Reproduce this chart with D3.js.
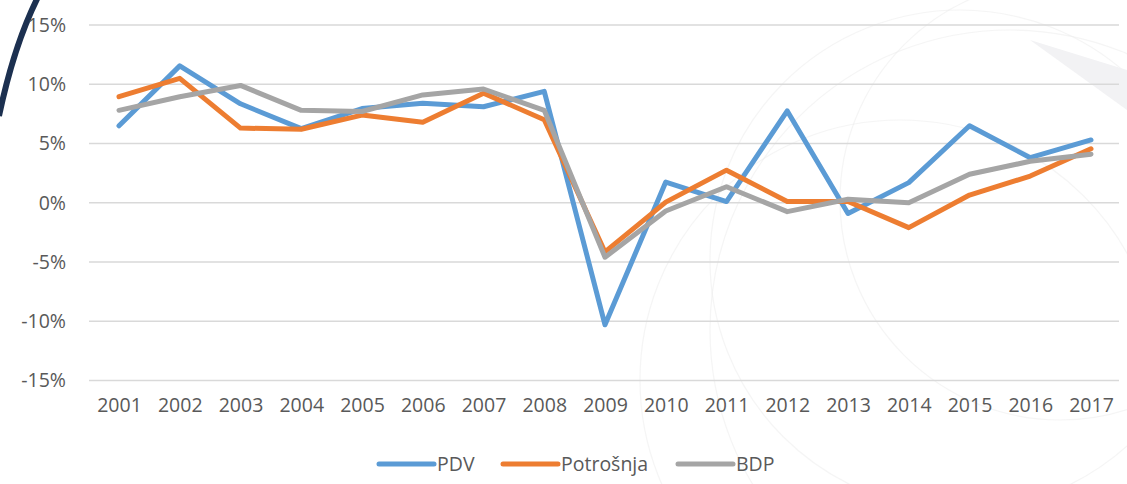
<!DOCTYPE html>
<html><head><meta charset="utf-8">
<script src="https://cdn.jsdelivr.net/npm/d3@7"></script>
<style>html,body{margin:0;padding:0;background:#fff;}svg{display:block;}</style>
</head><body>
<script>
const years = ["2001","2002","2003","2004","2005","2006","2007","2008","2009","2010","2011","2012","2013","2014","2015","2016","2017"];
const pdv = [6.5,11.55,8.35,6.25,7.95,8.4,8.1,9.4,-10.3,1.75,0.1,7.75,-0.9,1.7,6.5,3.8,5.3];
const potrosnja = [8.95,10.5,6.3,6.2,7.4,6.8,9.25,7.0,-4.15,0.05,2.75,0.1,0.1,-2.1,0.65,2.25,4.55];
const bdp = [7.8,8.95,9.9,7.8,7.7,9.1,9.6,7.8,-4.6,-0.7,1.35,-0.75,0.3,0.0,2.4,3.5,4.1];
const yTicks = [-15,-10,-5,0,5,10,15];
const seriesNames = ["PDV","Potrošnja","BDP"];
const colors = ["#5B9BD5","#ED7D31","#A5A5A5"];

const W=1127,H=484;
const svg=d3.select("body").append("svg").attr("width",W).attr("height",H);

// background decoration
const deco=svg.append("g");
[[1010,330,300],[960,260,250],[1060,200,220],[900,380,260]].forEach(c=>{
  deco.append("circle").attr("cx",c[0]).attr("cy",c[1]).attr("r",c[2])
    .attr("fill","none").attr("stroke","#ececec").attr("stroke-width",1.2).attr("opacity",0.5);
});
deco.append("path").attr("d","M1030,40 L1127,110 L1127,70 Z").attr("fill","#f2f2f4");
deco.append("path").attr("d","M38,-3 Q14,45 -1,116").attr("fill","none")
  .attr("stroke","#1c3050").attr("stroke-width",6);

const x=d3.scalePoint().domain(years).range([119,1091]);
const y=d3.scaleLinear().domain([-15,15]).range([380.5,25]);

const font="'Open Sans', 'Noto Sans', sans-serif";
const fs=19.5;
// grid
svg.append("g").selectAll("line").data(yTicks).join("line")
  .attr("x1",89).attr("x2",1119).attr("y1",d=>y(d)).attr("y2",d=>y(d))
  .attr("stroke","#d9d9d9").attr("stroke-width",1.3);

// y axis
const ya=svg.append("g").attr("transform","translate(66,0)")
  .call(d3.axisLeft(y).tickValues(yTicks).tickSize(0).tickPadding(0).tickFormat(d=>d+"%"));
ya.select(".domain").remove();
ya.selectAll("text").attr("font-family",font).attr("font-size",fs).attr("fill","#595959");

// x axis
const xa=svg.append("g").attr("transform","translate(0,398)")
  .call(d3.axisBottom(x).tickSize(0).tickPadding(0));
xa.select(".domain").remove();
xa.selectAll("text").attr("font-family",font).attr("font-size",fs).attr("fill","#595959").attr("dy","0.71em");

const line=d3.line().x((d,i)=>x(years[i])).y(d=>y(d));
const data=[pdv,potrosnja,bdp];
svg.append("g").selectAll("path").data(data).join("path")
  .attr("d",d=>line(d)).attr("fill","none")
  .attr("stroke",(d,i)=>colors[i]).attr("stroke-width",5)
  .attr("stroke-linejoin","round").attr("stroke-linecap","round");

// legend
const legX=[379,503,678];
const lg=svg.append("g");
seriesNames.forEach((n,i)=>{
  lg.append("line").attr("x1",legX[i]).attr("x2",legX[i]+55).attr("y1",464).attr("y2",464)
    .attr("stroke",colors[i]).attr("stroke-width",5).attr("stroke-linecap","round");
  lg.append("text").attr("x",legX[i]+58).attr("y",464).attr("dy","0.35em")
    .attr("font-family",font).attr("font-size",fs).attr("fill","#595959").text(n);
});
</script>
</body></html>
